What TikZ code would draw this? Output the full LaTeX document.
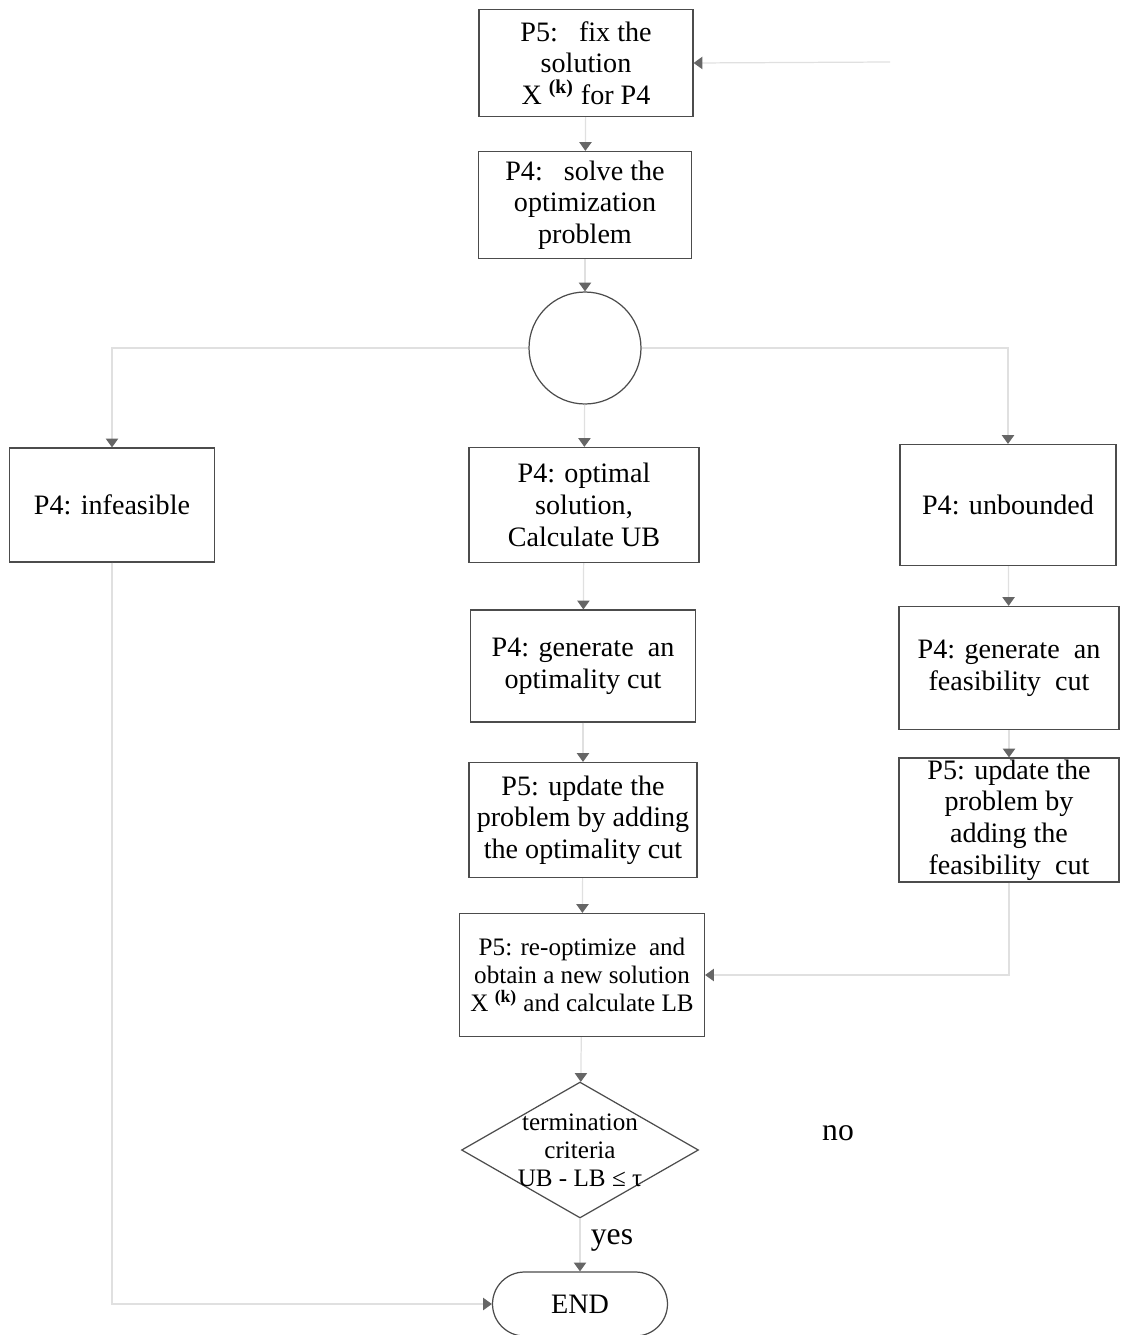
\documentclass[tikz,border=0pt]{standalone}
\usepackage{fontspec}
\setmainfont{Liberation Serif}
\usetikzlibrary{arrows.meta,shapes.geometric}

\begin{document}
\begin{tikzpicture}[
    x=0.02cm, y=-0.02cm,
    box/.style={draw=black!70, line width=0.7pt, align=center, inner sep=1pt,
                font=\fontsize{16}{18}\selectfont},
    small/.style={font=\fontsize{14.3}{16}\selectfont},
    link/.style={draw=black!12, line width=0.7pt,
                 -{Triangle[color=black!60, width=7pt, length=5pt]}},
    word/.style={font=\fontsize{18}{20}\selectfont}
]
\useasboundingbox (0,0) rectangle (1123,1335);

% Top of the loop
\node[box, minimum width=4.28cm, minimum height=2.14cm] (fixsol) at (586,63)
    {P5:\ \ \ fix the\\ solution\\ X~\textsuperscript{\bfseries(k)} for P4};
\node[box, minimum width=4.26cm, minimum height=2.14cm] (solve) at (585,205)
    {P4:\ \ \ solve the\\ optimization\\ problem};
\node[draw=black!70, line width=0.7pt, circle, minimum size=2.24cm] (branch) at (585,348) {};

% Three outcomes
\node[box, minimum width=4.1cm, minimum height=2.28cm] (infeas) at (112,505) {P4: infeasible};
\node[box, minimum width=4.6cm, minimum height=2.3cm] (optimal) at (584,505)
    {P4: optimal\\ solution,\\ Calculate UB};
\node[box, minimum width=4.32cm, minimum height=2.42cm] (unbnd) at (1008,505) {P4: unbounded};

% Middle column
\node[box, minimum width=4.5cm, minimum height=2.24cm] (gencut) at (583,666)
    {P4: generate\ \ an\\ optimality cut};
\node[box, minimum width=4.56cm, minimum height=2.3cm] (updopt) at (583,820)
    {P5: update the\\ problem by adding\\ the optimality cut};
\node[box, small, minimum width=4.9cm, minimum height=2.46cm] (reopt) at (582,975)
    {P5: re-optimize\ \ and\\ obtain a new solution\\ X~\textsuperscript{\bfseries(k)} and calculate LB};
\node[draw=black!70, line width=0.7pt, diamond, minimum width=4.74cm, minimum height=2.72cm,
      inner sep=0pt] (crit) at (580,1150) {};
\node[small, align=center] (crittext) at (crit.center) {termination\\ criteria\\ UB - LB ≤ τ};
\node[box, rounded corners=0.64cm, minimum width=3.5cm, minimum height=1.28cm] (end) at (580,1304) {END};

% Right column
\node[box, minimum width=4.4cm, minimum height=2.46cm] (feascut) at (1009,668)
    {P4: generate\ \ an\\ feasibility\ \ cut};
\node[box, minimum width=4.4cm, minimum height=2.46cm] (updfeas) at (1009,820)
    {P5: update the\\ problem by\\ adding the\\ feasibility\ \ cut};

% Labels
\node[word] (no) at (838,1133) {no};
\node[word] (yes) at (612,1240) {yes};
\coordinate (back) at (890,62);

% Connectors
\draw[link] (back) -- (fixsol.east);
\draw[link] (fixsol) -- (solve);
\draw[link] (solve) -- (branch);
\draw[link] (branch.west) -| (infeas.north);
\draw[link] (branch) -- (optimal);
\draw[link] (branch.east) -| (unbnd.north);
\draw[link] (optimal) -- (gencut);
\draw[link] (gencut) -- (updopt);
\draw[link] (updopt) -- (reopt);
\draw[link] (reopt) -- (crit);
\draw[link] (crit) -- (end);
\draw[link] (unbnd) -- (feascut);
\draw[link] (feascut) -- (updfeas);
\draw[link] (updfeas.south) |- (reopt.east);
\draw[link] (infeas.south) |- (end.west);

\end{tikzpicture}
\end{document}
